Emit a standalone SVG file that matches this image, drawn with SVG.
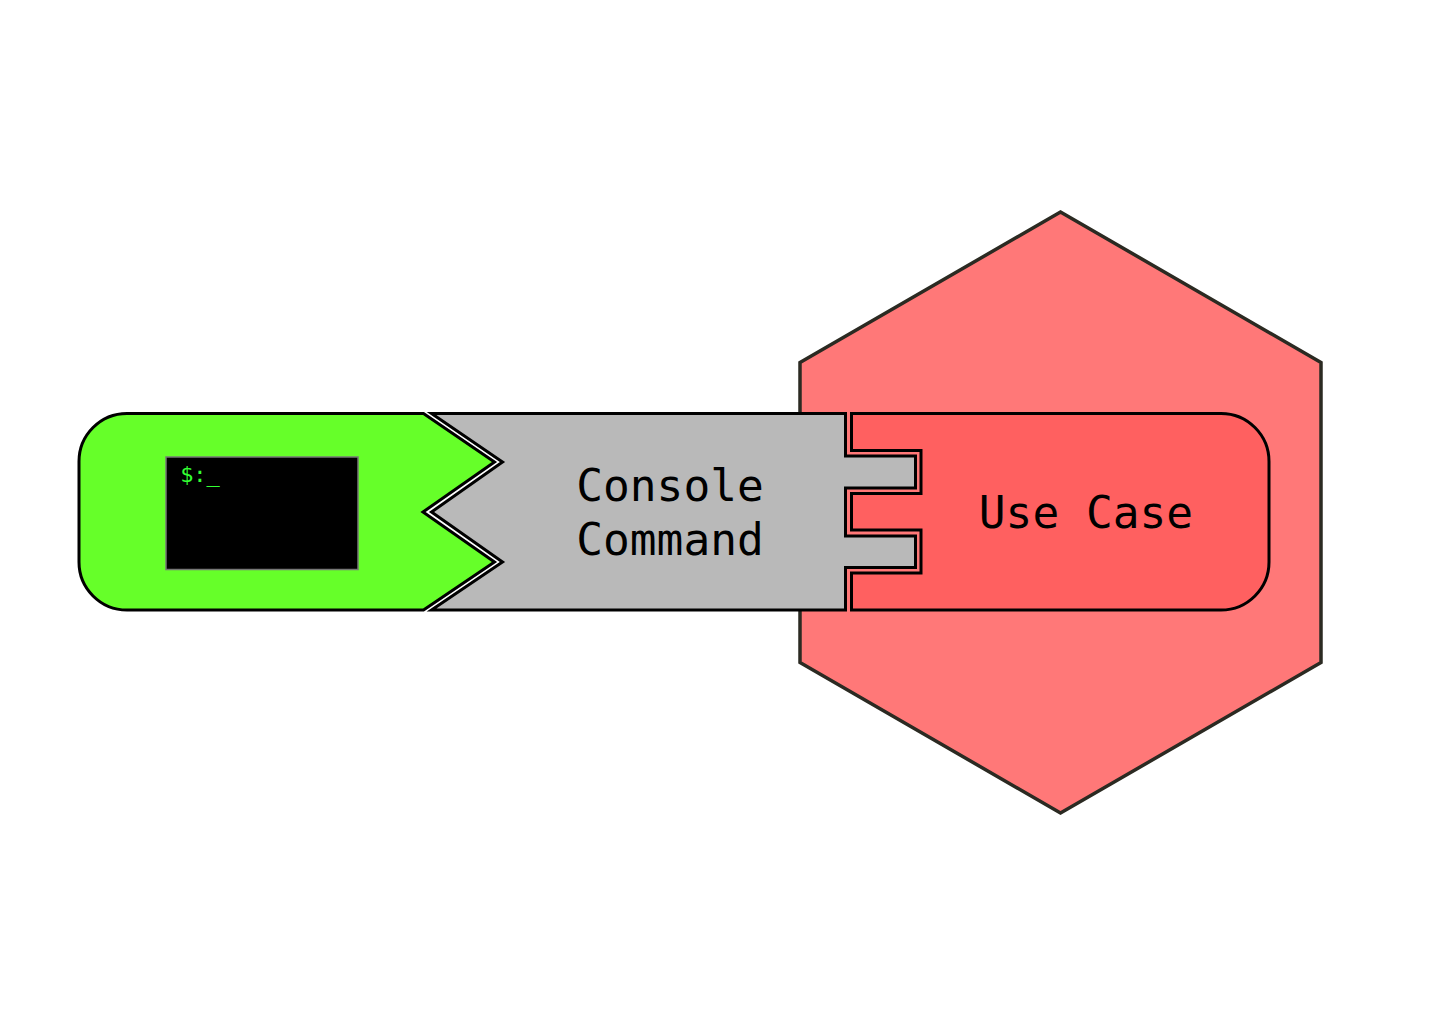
<svg xmlns="http://www.w3.org/2000/svg" width="1440" height="1024" viewBox="0 0 1440 1024">
<style>
.o{stroke:#000;stroke-width:3;stroke-linejoin:miter}
text{font-family:"DejaVu Sans Mono","Liberation Mono",monospace;fill:#000;font-size:44.500px;text-anchor:middle}
</style>
<rect width="1440" height="1024" fill="#fff"/>
<g id="use-case-hexagon"><polygon points="1060.500,212 1321,362.500 1321,662.500 1060.500,813 800,662.500 800,362.500" fill="#ff7878" stroke="#2b2a22" stroke-width="3.500"/></g>
<g id="use-case">
<path class="o" fill="#ff6060" d="M851.500 413.500H1221A48 48 0 0 1 1269 461.500V562A48 48 0 0 1 1221 610H851.500V573H921V530H851.500V493.500H921V450.500H851.500Z"/>
<text x="1086" y="528">Use Case</text>
</g>
<g id="console-command">
<path fill="#fff" d="M424 412L494.500 462 423 512 494.500 562 424 611H433L502.500 562 431.500 512 502.500 462 433 412Z"/>
<path class="o" fill="#b9b9b9" d="M431.500 413.500H845.500V456H915.500V488H845.500V536H915.500V567.500H845.500V610H431.500L502.500 562 431.500 512 502.500 462Z"/>
<text x="670" y="501">Console</text>
<text x="670" y="555">Command</text>
</g>
<g id="terminal-client">
<path class="o" fill="#66ff29" d="M127 413.500H423.500L494.500 462 423 512 494.500 562 423.500 610H127A48 48 0 0 1 79 562V461.500A48 48 0 0 1 127 413.500Z"/>
<rect x="166" y="457" width="192" height="112.500" fill="#000" stroke="#777" stroke-width="1.500"/>
<text x="200" y="482" style="font-size:22px;fill:#33ff33">$:_</text>
</g>
</svg>
